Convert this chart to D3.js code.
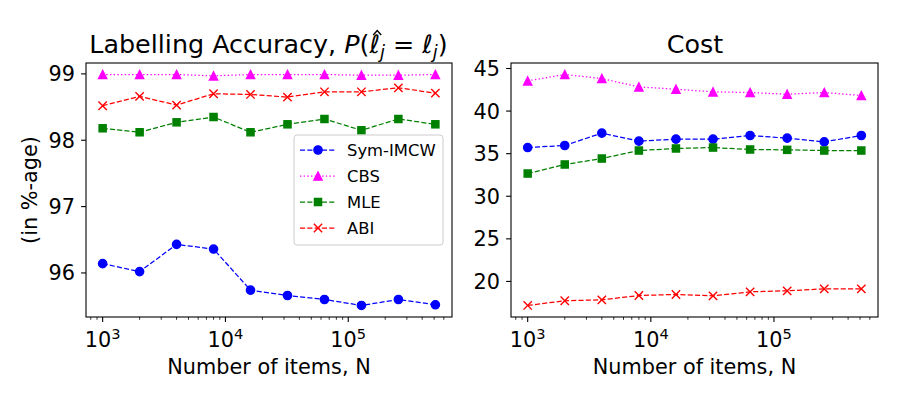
<!DOCTYPE html>
<html><head><meta charset="utf-8">
<script src="https://cdn.jsdelivr.net/npm/d3@7"></script>
<style>body{margin:0;background:#fff}svg{font-family:"DejaVu Sans",sans-serif}</style>
</head><body><svg id="c" width="900" height="400"></svg>
<script>
const N = [1000, 2000, 4000, 8000, 16000, 32000, 64000, 128000, 256000, 512000];
const seriesNames = ["Sym-IMCW", "CBS", "MLE", "ABI"];
// Labelling accuracy (%)
const accSym = [96.14, 96.02, 96.43, 96.36, 95.74, 95.66, 95.60, 95.51, 95.60, 95.52];
const accCBS = [98.99, 98.99, 98.99, 98.97, 98.99, 98.99, 98.99, 98.98, 98.98, 98.99];
const accMLE = [98.18, 98.12, 98.27, 98.35, 98.12, 98.24, 98.32, 98.15, 98.32, 98.24];
const accABI = [98.52, 98.66, 98.53, 98.70, 98.69, 98.65, 98.73, 98.73, 98.79, 98.71];
// Cost
const costSym = [35.72, 35.96, 37.41, 36.47, 36.70, 36.70, 37.13, 36.82, 36.39, 37.13];
const costCBS = [43.55, 44.29, 43.82, 42.84, 42.57, 42.26, 42.18, 41.98, 42.18, 41.83];
const costMLE = [32.67, 33.73, 34.43, 35.37, 35.61, 35.72, 35.49, 35.45, 35.37, 35.37];
const costABI = [17.18, 17.73, 17.84, 18.35, 18.47, 18.31, 18.78, 18.90, 19.13, 19.13];
const accTicks = [96, 97, 98, 99];
const costTicks = [20, 25, 30, 35, 40, 45];
const xTicks = [1e3, 1e4, 1e5];

const styles = {
  "Sym-IMCW": {color: "#0000ff", dash: "5.1,2.2", marker: "circle"},
  "CBS": {color: "#ff00ff", dash: "1.39,2.29", marker: "triangle"},
  "MLE": {color: "#008000", dash: "5.1,2.2", marker: "square"},
  "ABI": {color: "#ff0000", dash: "5.1,2.2", marker: "x"}
};
const FS = 20.8;

const svg = d3.select("#c");

function marker(g, type, x, y, color) {
  const ew = 1.3;
  if (type === "circle") g.append("circle").attr("cx", x).attr("cy", y).attr("r", 4.17).attr("fill", color).attr("stroke", color).attr("stroke-width", ew);
  else if (type === "square") g.append("rect").attr("x", x - 3.6).attr("y", y - 3.6).attr("width", 7.2).attr("height", 7.2).attr("fill", color).attr("stroke", color).attr("stroke-width", ew);
  else if (type === "triangle") g.append("path").attr("d", `M${x},${y-4.17}L${x+4.17},${y+4.17}L${x-4.17},${y+4.17}Z`).attr("fill", color).attr("stroke", color).attr("stroke-width", ew).attr("stroke-linejoin", "miter");
  else if (type === "x") {
    const s = 4.17;
    g.append("path").attr("d", `M${x-s},${y-s}L${x+s},${y+s}M${x-s},${y+s}L${x+s},${y-s}`).attr("stroke", color).attr("stroke-width", 1.4).attr("fill", "none");
  }
}

function panel(opts) {
  const {x0, x1, y0, y1, data, yTicks} = opts;
  const lx = Math.log10(N[0]), hx = Math.log10(N[N.length - 1]);
  const mx = (hx - lx) * 0.05;
  const x = d3.scaleLog().domain([Math.pow(10, lx - mx), Math.pow(10, hx + mx)]).range([x0, x1]);
  const all = data.flat();
  const lo = d3.min(all), hi = d3.max(all), m = (hi - lo) * 0.05;
  const y = d3.scaleLinear().domain([lo - m, hi + m]).range([y1, y0]);
  const g = svg.append("g");

  seriesNames.forEach((name, i) => {
    const st = styles[name];
    const pts = N.map((n, j) => [x(n), y(data[i][j])]);
    g.append("path").attr("d", d3.line()(pts)).attr("fill", "none")
      .attr("stroke", st.color).attr("stroke-width", 1.25).attr("stroke-dasharray", st.dash);
    pts.forEach(p => marker(g, st.marker, p[0], p[1], st.color));
  });

  g.append("rect").attr("x", x0).attr("y", y0).attr("width", x1 - x0).attr("height", y1 - y0)
    .attr("fill", "none").attr("stroke", "#000").attr("stroke-width", 1.1);

  const dmin = x.domain()[0], dmax = x.domain()[1];
  for (let e = 2; e <= 6; e++) {
    for (let k = 1; k <= 9; k++) {
      const v = k * Math.pow(10, e);
      if (v < dmin || v > dmax) continue;
      const px = x(v);
      g.append("line").attr("x1", px).attr("x2", px).attr("y1", y1).attr("y2", y1 + (k === 1 ? 4.9 : 2.8))
        .attr("stroke", "#000").attr("stroke-width", k === 1 ? 1.1 : 0.8);
    }
  }
  xTicks.forEach(v => {
    const t = g.append("text").attr("x", x(v)).attr("y", y1 + 30).attr("text-anchor", "middle")
      .attr("font-size", FS).attr("fill", "#000");
    t.append("tspan").text("10");
    t.append("tspan").attr("font-size", 14.6).attr("dy", -8.5).text(String(Math.round(Math.log10(v))));
  });
  yTicks.forEach(v => {
    g.append("line").attr("x1", x0 - 4.9).attr("x2", x0).attr("y1", y(v)).attr("y2", y(v)).attr("stroke", "#000").attr("stroke-width", 1.1);
    g.append("text").attr("x", x0 - 11).attr("y", y(v)).attr("dy", "0.36em").attr("text-anchor", "end")
      .attr("font-size", FS).attr("fill", "#000").text(v);
  });
  g.append("text").attr("x", (x0 + x1) / 2).attr("y", y1 + 57).attr("text-anchor", "middle")
    .attr("font-size", FS).attr("fill", "#000").text("Number of items, N");
  return {g, x, y};
}

panel({x0: 86, x1: 452, y0: 63, y1: 317, data: [accSym, accCBS, accMLE, accABI], yTicks: accTicks});
panel({x0: 511, x1: 878, y0: 63, y1: 317, data: [costSym, costCBS, costMLE, costABI], yTicks: costTicks});

// titles
const TS = 25.4;
const t1 = svg.append("text").attr("x", 268.5).attr("y", 53).attr("text-anchor", "middle").attr("font-size", TS).attr("fill", "#000");
t1.append("tspan").text("Labelling Accuracy, ");
t1.append("tspan").attr("font-style", "italic").text("P");
t1.append("tspan").text("(");
t1.append("tspan").attr("font-style", "italic").text("\u2113");
t1.append("tspan").attr("font-style", "italic").attr("font-size", 17.8).attr("dy", 5).text("j");
t1.append("tspan").attr("dy", -5).text(" = ");
t1.append("tspan").attr("font-style", "italic").text("\u2113");
t1.append("tspan").attr("font-style", "italic").attr("font-size", 17.8).attr("dy", 5).text("j");
t1.append("tspan").attr("dy", -5).text(")");
// hat over the first ell
{
  const txt = "Labelling Accuracy, P(";
  const node = t1.node();
  const sp = node.getStartPositionOfChar(txt.length);
  const ep = node.getEndPositionOfChar(txt.length);
  const cx = (sp.x + ep.x) / 2 + 2.5;
  const hy = 53 - 21;
  svg.append("path").attr("d", `M${cx-4},${hy+3}L${cx},${hy-1.5}L${cx+4},${hy+3}`)
    .attr("fill", "none").attr("stroke", "#000").attr("stroke-width", 1.4);
}

svg.append("text").attr("x", 695).attr("y", 53).attr("text-anchor", "middle").attr("font-size", TS).attr("fill", "#000").text("Cost");

svg.append("text").attr("transform", "translate(37,190) rotate(-90)").attr("text-anchor", "middle")
  .attr("font-size", FS).attr("fill", "#000").text("(in %-age)");

// legend
const lg = svg.append("g");
lg.append("rect").attr("x", 294).attr("y", 135).attr("width", 149).attr("height", 110).attr("rx", 3)
  .attr("fill", "#fff").attr("fill-opacity", 0.8).attr("stroke", "#cccccc").attr("stroke-width", 1);
seriesNames.forEach((name, i) => {
  const st = styles[name];
  const yy = 150 + i * 26;
  lg.append("line").attr("x1", 300).attr("x2", 336).attr("y1", yy).attr("y2", yy)
    .attr("stroke", st.color).attr("stroke-width", 1.25).attr("stroke-dasharray", st.dash);
  marker(lg, st.marker, 318, yy, st.color);
  lg.append("text").attr("x", 347).attr("y", yy).attr("dy", "0.36em").attr("font-size", 16.4).attr("fill", "#000").text(name);
});
</script></body></html>
